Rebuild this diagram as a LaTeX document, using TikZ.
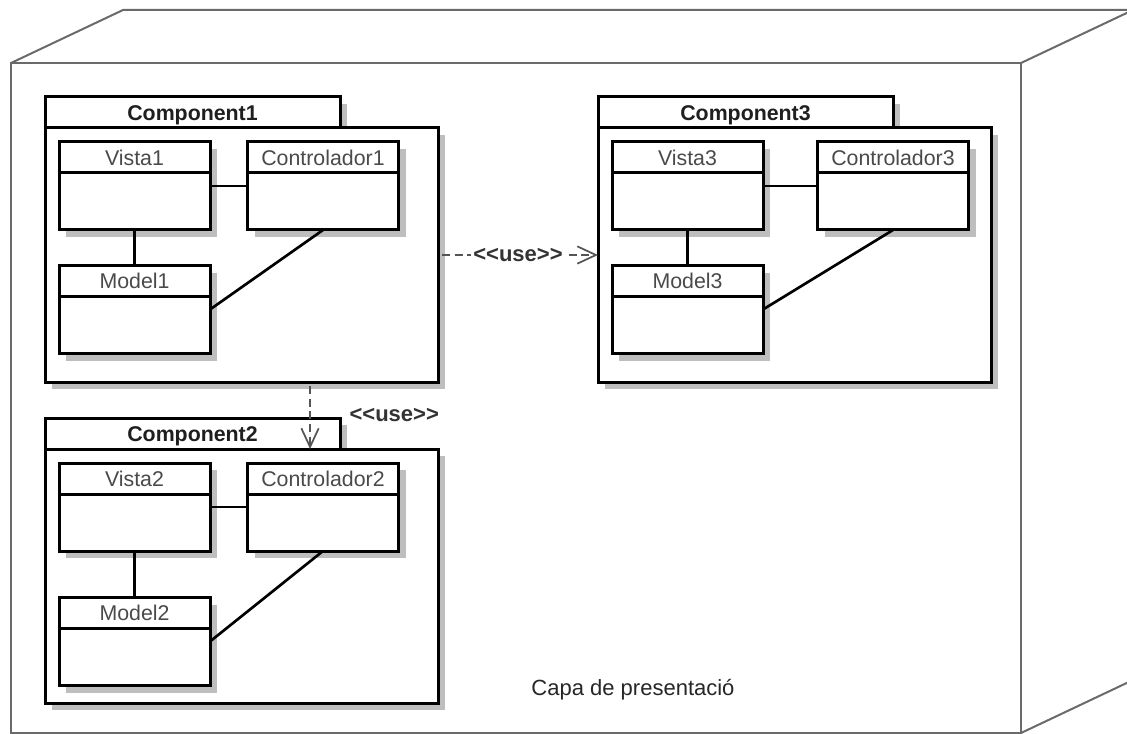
\documentclass[tikz,border=0pt]{standalone}
\usepackage{fontspec}
\newfontfamily\umlfont{Liberation Sans}
\usetikzlibrary{arrows.meta,positioning,calc,shadows}
\definecolor{nodeline}{HTML}{6A6A6A}
\definecolor{shadowgray}{HTML}{BEBEBE}
\definecolor{clstext}{HTML}{4A4A4A}
\definecolor{deplink}{HTML}{555555}
\tikzset{
  umlshadow/.style={drop shadow={shadow xshift=5.5pt, shadow yshift=-5.5pt,
    fill=shadowgray, opacity=1}},
  % the deployment node (front face + perspective edges)
  layerface/.style={draw=nodeline, line width=1.5pt, minimum width=757.5pt,
    minimum height=502.5pt, inner sep=0pt, outer sep=0pt},
  layeredge/.style={draw=nodeline, line width=1.5pt},
  note/.style={font=\umlfont\fontsize{16.5}{19}\selectfont, text=black!85},
  % a component: tab with the name, body below it
  comptab/.style={draw, fill=white, line width=2.25pt, anchor=north west,
    minimum width=221.25pt, minimum height=23.25pt, inner sep=0pt, outer sep=0pt,
    text height=11.5pt, text depth=0pt,
    font=\umlfont\bfseries\fontsize{16}{19}\selectfont, text=black!88, umlshadow},
  compbody/.style={draw, fill=white, line width=2.25pt, minimum width=294.75pt,
    minimum height=190.5pt, inner sep=0pt, outer sep=0pt, umlshadow},
  % a class: name compartment + empty compartment
  cls/.style={draw, fill=white, line width=2.25pt, minimum width=113.25pt,
    inner sep=0pt, outer sep=0pt, text height=17.3pt, text depth=48.7pt,
    font=\umlfont\fontsize{16}{19}\selectfont, text=clstext, umlshadow,
    path picture={\draw[line width=2.25pt]
      ([yshift=-23.25pt]path picture bounding box.north west) --
      ([yshift=-23.25pt]path picture bounding box.north east);}},
  assoc/.style={line width=2pt},
  dep/.style={draw=deplink, line width=1.3pt, dash pattern=on 6pt off 3.5pt,
    -{Straight Barb[length=14pt, width=13pt]}},
  uselbl/.style={font=\umlfont\bfseries\fontsize{16.5}{19}\selectfont,
    text=black!80, inner sep=2pt},
}
% #1 number, #2/#3 shift, #4 controller x offset, #5 model y offset
\newcommand{\umlcomponent}[5]{%
  \begin{scope}[shift={(#2,#3)}]
    \node[comptab] (tab#1) at (45,97) {Component#1};
    \node[compbody, anchor=north west] (comp#1) at (tab#1.south west) {};
    \node[cls] (vista#1) at (134.5,186) {Vista#1};
    \node[cls] (ctrl#1) at (323+#4,186) {Controlador#1};
    \node[cls] (model#1) at (134.5,309.5+#5) {Model#1};
    \draw[assoc] (vista#1) -- (ctrl#1);
    \draw[assoc] (vista#1) -- (model#1);
    \draw[assoc] (ctrl#1.south) -- (model#1.east);
  \end{scope}}

\begin{document}
\begin{tikzpicture}[x=0.75pt,y=-0.75pt]
  \useasboundingbox (0,0) rectangle (1127,734);
  % presentation layer node
  \node[layerface] (layer) at (516,398) {};
  \draw[layeredge] (layer.north west) -- ++(112,-53) -- ++(1010,0) coordinate (backne);
  \draw[layeredge] (layer.north east) -- (backne);
  \draw[layeredge] (layer.south east) -- ++(112,-53);
  \node[note] (layername) at (633,690) {Capa de presentació};

  \umlcomponent{1}{0}{0}{0}{0}
  \umlcomponent{3}{553}{0}{17}{0}
  \umlcomponent{2}{0}{321}{0}{11}

  % dependencies
  \draw[dep, shorten <=3pt] (comp1.east) -- node[uselbl, fill=white] {<<use>>} (comp3.west);
  \coordinate (use12) at ([xshift=51.4pt]comp1.south);
  \draw[dep, shorten <=3pt] (use12) -- (use12 |- comp2.north)
    node[uselbl, midway, anchor=west, xshift=27pt] {<<use>>};
\end{tikzpicture}
\end{document}
